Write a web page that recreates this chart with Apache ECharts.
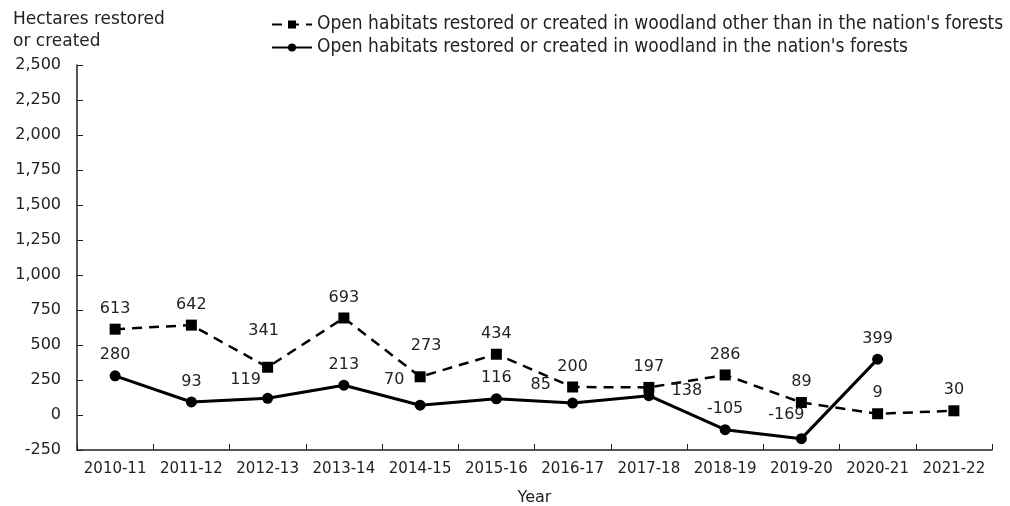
<!DOCTYPE html>
<html>
<head>
<meta charset="utf-8">
<script src="https://cdn.jsdelivr.net/npm/echarts@6/dist/echarts.min.js"></script>
<style>
  html, body { margin: 0; padding: 0; background: #fff; }
  #chart { width: 1010px; height: 506px; }
</style>
</head>
<body>
<div id="chart"></div>
<script>
const years = ['2010-11', '2011-12', '2012-13', '2013-14', '2014-15', '2015-16',
  '2016-17', '2017-18', '2018-19', '2019-20', '2020-21', '2021-22']
const otherWoodland = [613, 642, 341, 693, 273, 434, 200, 197, 286, 89, 9, 30]
const nationsForests = [280, 93, 119, 213, 70, 116, 85, 138, -105, -169, 399, null]

// label nudges where the labels would collide
const dashedLabelOffsets = {
  2: [-4, -16],
  4: [6, -10]
}
const solidLabelOffsets = {
  2: [-22, 2],
  4: [-26, -5],
  6: [-32, 2],
  7: [38, 16],
  9: [-15, -3]
}

function withOffsets(values, offsets) {
  return values.map((v, i) => {
    const off = offsets[i]
    return off ? { value: v, label: { offset: off } } : v
  })
}

const font = 'DejaVu Sans, Verdana, sans-serif'
const chart = echarts.init(document.getElementById('chart'))

chart.setOption({
  animation: false,
  textStyle: { fontFamily: font, color: '#222' },
  title: {
    text: 'Hectares restored\nor created',
    left: 8,
    top: 4,
    textStyle: { fontFamily: font, fontSize: 17, fontWeight: 'normal', color: '#222', lineHeight: 22 }
  },
  legend: {
    orient: 'vertical',
    left: 266,
    top: 10,
    itemWidth: 40,
    itemHeight: 10,
    itemGap: 4,
    textStyle: { fontFamily: 'DejaVu Sans Condensed, DejaVu Sans, sans-serif', fontSize: 19, color: '#222' },
    data: [
      'Open habitats restored or created in woodland other than in the nation\'s forests',
      'Open habitats restored or created in woodland in the nation\'s forests'
    ]
  },
  grid: { left: 77, right: 18, top: 65, bottom: 56, containLabel: false, outerBoundsMode: 'none' },
  xAxis: {
    type: 'category',
    data: years,
    boundaryGap: true,
    name: 'Year',
    nameLocation: 'middle',
    nameGap: 40,
    nameTextStyle: { fontFamily: font, fontSize: 16, color: '#222' },
    axisLine: { onZero: false, lineStyle: { color: '#222', width: 1.5 } },
    axisTick: { show: true, inside: true, length: 6, interval: 0, lineStyle: { color: '#222' } },
    axisLabel: { interval: 0, fontFamily: font, fontSize: 15, color: '#222', margin: 12 },
    splitLine: { show: false }
  },
  yAxis: {
    type: 'value',
    min: -250,
    max: 2500,
    interval: 250,
    axisLine: { show: true, lineStyle: { color: '#222', width: 1.5 } },
    axisTick: { show: true, inside: true, length: 6, lineStyle: { color: '#222' } },
    axisLabel: {
      fontFamily: font, fontSize: 16, color: '#222', margin: 16,
      formatter: v => v.toLocaleString('en-GB')
    },
    splitLine: { show: false }
  },
  series: [
    {
      name: 'Open habitats restored or created in woodland other than in the nation\'s forests',
      type: 'line',
      data: withOffsets(otherWoodland, dashedLabelOffsets),
      symbol: 'rect',
      symbolSize: 11,
      itemStyle: { color: '#000' },
      lineStyle: { color: '#000', width: 2.5, type: [10, 7] },
      label: { show: true, position: 'top', distance: 7, fontFamily: font, fontSize: 16, color: '#222' }
    },
    {
      name: 'Open habitats restored or created in woodland in the nation\'s forests',
      type: 'line',
      data: withOffsets(nationsForests, solidLabelOffsets),
      symbol: 'circle',
      symbolSize: 11,
      connectNulls: false,
      itemStyle: { color: '#000' },
      lineStyle: { color: '#000', width: 3 },
      label: { show: true, position: 'top', distance: 7, fontFamily: font, fontSize: 16, color: '#222' }
    }
  ]
})
</script>
</body>
</html>
